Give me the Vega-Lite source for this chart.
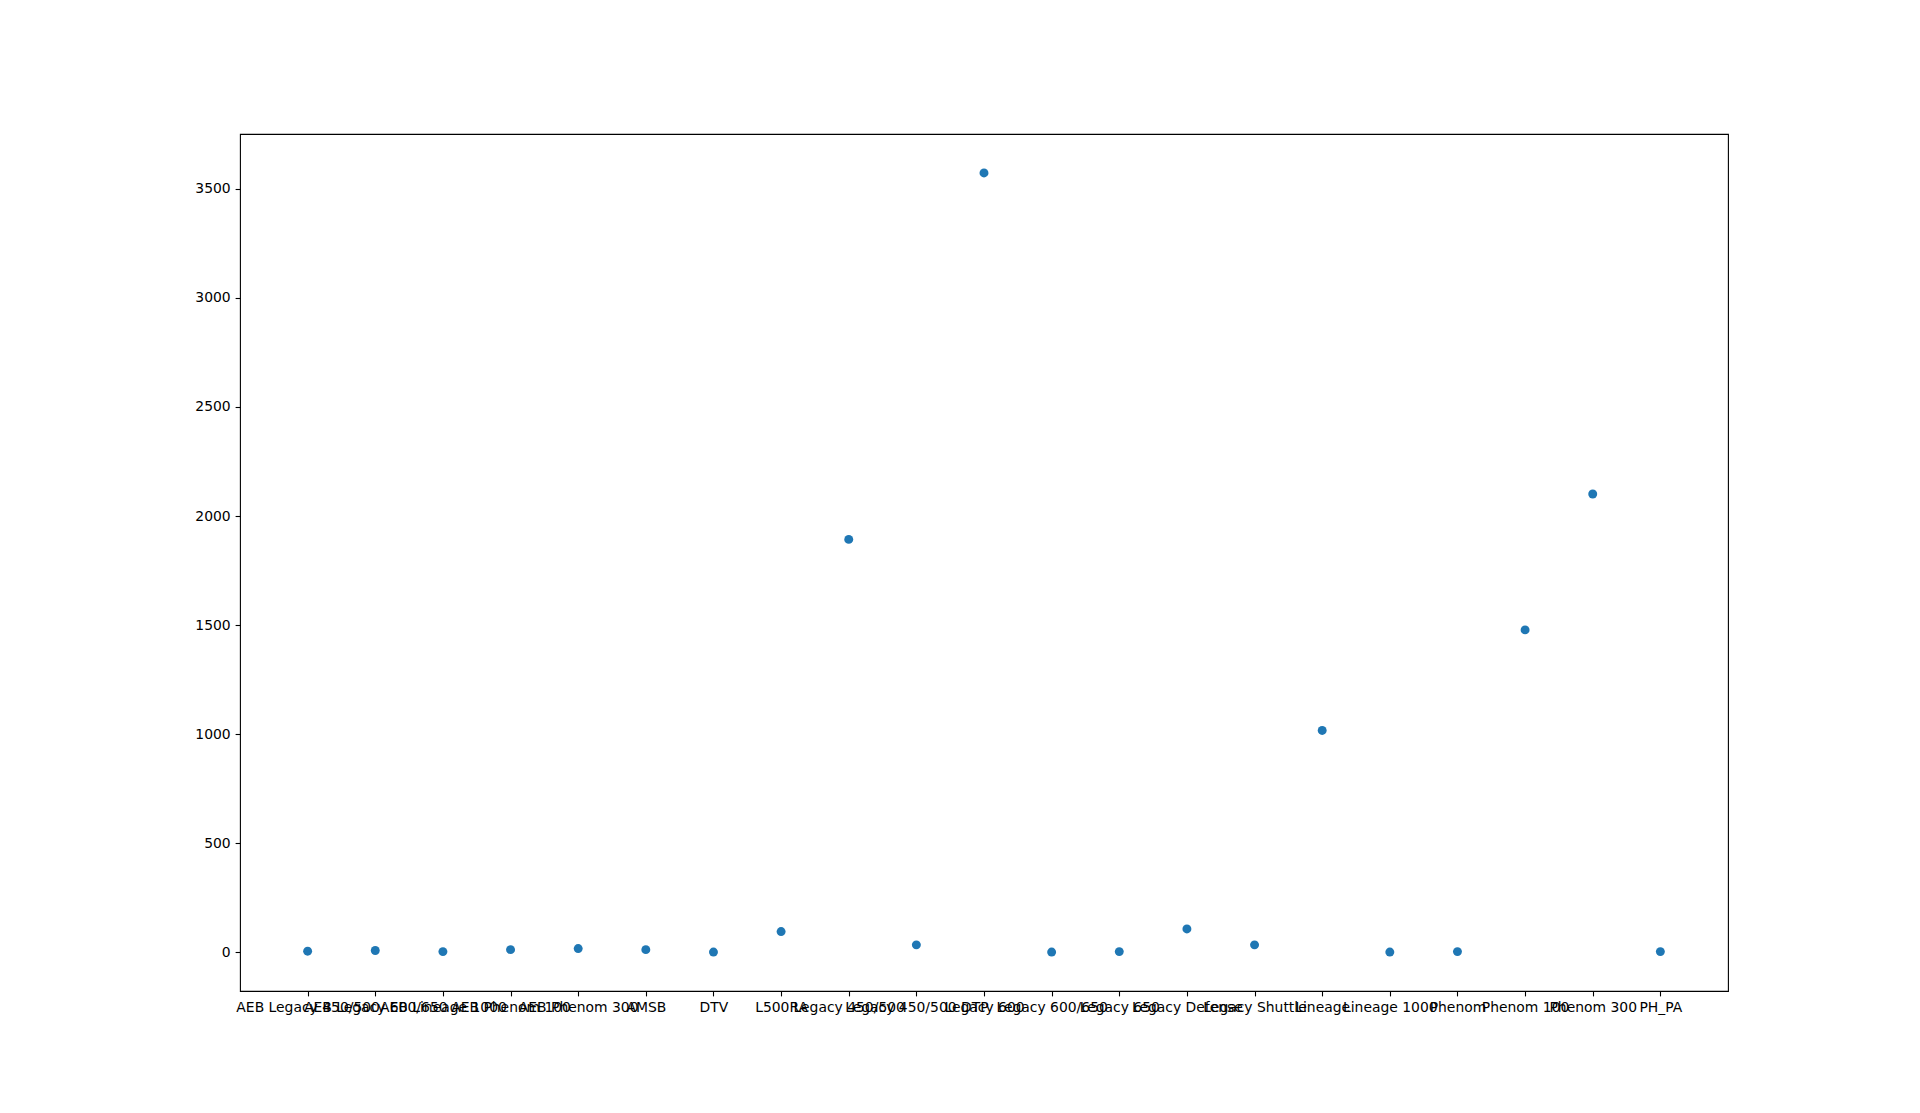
{
  "$schema": "https://vega.github.io/schema/vega-lite/v6.json",
  "autosize": {"type": "none"},
  "padding": {"left": 240, "top": 134, "right": 192, "bottom": 122},
  "width": 1488,
  "height": 857,
  "background": "white",
  "config": {
    "view": {"stroke": "black", "strokeWidth": 1.1},
    "axis": {
      "grid": false,
      "domain": false,
      "tickColor": "black",
      "tickSize": 4.9,
      "tickWidth": 1.1,
      "labelColor": "black",
      "labelFont": "DejaVu Sans",
      "labelFontSize": 13.9,
      "labelPadding": 4.9,
      "titleFontSize": 0
    }
  },
  "data": {
    "values": [
      {"model": "AEB Legacy 450/500", "count": 5},
      {"model": "AEB Legacy 600/650", "count": 8},
      {"model": "AEB Lineage 1000", "count": 3},
      {"model": "AEB Phenom 100", "count": 12},
      {"model": "AEB Phenom 300", "count": 17},
      {"model": "AMSB", "count": 12},
      {"model": "DTV", "count": 1},
      {"model": "L500RA", "count": 95},
      {"model": "Legacy 450/500", "count": 1893},
      {"model": "Legacy 450/500 DTP", "count": 34},
      {"model": "Legacy 600", "count": 3573},
      {"model": "Legacy 600/650", "count": 1},
      {"model": "Legacy 650", "count": 3},
      {"model": "Legacy Defense", "count": 107},
      {"model": "Legacy Shuttle", "count": 34},
      {"model": "Lineage", "count": 1017},
      {"model": "Lineage 1000", "count": 1},
      {"model": "Phenom", "count": 3},
      {"model": "Phenom 100", "count": 1478},
      {"model": "Phenom 300", "count": 2101},
      {"model": "PH_PA", "count": 3}
    ]
  },
  "mark": {"type": "circle", "size": 80, "color": "#1f77b4", "opacity": 1},
  "encoding": {
    "x": {
      "field": "model",
      "type": "nominal",
      "sort": null,
      "scale": {"type": "point", "padding": 1},
      "axis": {"title": null, "labelAngle": 0, "labelOverlap": false, "labelBound": false, "labelFlush": false, "labelLimit": 0}
    },
    "y": {
      "field": "count",
      "type": "quantitative",
      "scale": {"domain": [-177.6, 3751.6], "nice": false, "zero": false},
      "axis": {"title": null, "format": "d", "values": [0, 500, 1000, 1500, 2000, 2500, 3000, 3500]}
    }
  }
}
